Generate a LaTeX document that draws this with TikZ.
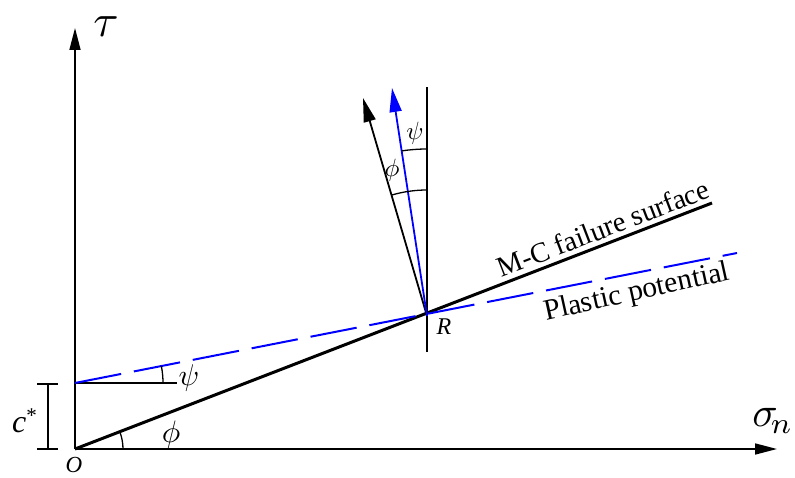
\documentclass[tikz,border=0pt]{standalone}
\usepackage{fontspec}
\setmainfont{Liberation Serif}
\usetikzlibrary{arrows.meta}
\begin{document}
\begin{tikzpicture}[x=1pt,y=1pt,
  axis/.style={line width=1.6pt,-{Triangle[length=22pt,width=11pt]}},
  thin/.style={line width=1.3pt},
  mc/.style={line width=3pt},
  pp/.style={blue,line width=2pt,dash pattern=on 47pt off 13pt},
  narrow/.style={line width=1.8pt,-{Triangle[length=24pt,width=12pt]}},
  lbl/.style={inner sep=0pt},
  txt/.style={inner sep=0pt,font=\fontsize{28.5}{30}\selectfont}]
\useasboundingbox (0,0) rectangle (795,477);
\coordinate (O) at (75,28);
\coordinate (tauTip) at (75,449);
\coordinate (sigTip) at (777,28);
\coordinate (C) at (75,94);
\coordinate (R) at (427,161);
\coordinate (MCend) at (712,274);
\coordinate (PPend) at (737,224);
\coordinate (Vtop) at (427,390);
\coordinate (Vbot) at (427,125);
\coordinate (Nphi) at (363,379);
\coordinate (Npsi) at (392,389);
\coordinate (Hend) at (177,94);
\coordinate (Bt) at (48,93);
\coordinate (Bb) at (48,28);
% axes
\draw[axis] (O) -- (tauTip);
\draw[axis] (O) -- (sigTip);
% c* bracket
\draw[thin] (Bt) -- (Bb);
\draw[thin] ([xshift=-11pt]Bt) -- ([xshift=10pt]Bt);
\draw[thin] ([xshift=-11pt]Bb) -- ([xshift=10pt]Bb);
% horizontal at C
\draw[thin] (C) -- (Hend);
% lines
\draw[mc] (O) -- (MCend);
\draw[pp] (C) -- (PPend);
% vertical through R
\draw[thin] (Vbot) -- (Vtop);
% normals
\draw[narrow] (R) -- (Nphi);
\draw[narrow,blue] (R) -- (Npsi);
% arcs
\draw[thin] ([shift={(0:48)}]O) arc[start angle=0,end angle=21.1,radius=48];
\draw[thin] ([shift={(0:88)}]C) arc[start angle=0,end angle=11.1,radius=88];
\draw[thin] ([shift={(90:126)}]R) arc[start angle=90,end angle=106.4,radius=126];
\draw[thin] ([shift={(90:167)}]R) arc[start angle=90,end angle=98.7,radius=167];
% labels
\node[lbl,scale=4.6] (ltau) at (106,450) {$\tau$};
\node[lbl,scale=4.2] (lsig) at (773,56) {$\sigma_{\!n}$};
\node[lbl] (lO) at (74,12) {\fontsize{23}{23}\selectfont\textit{O}};
\node[lbl,anchor=base west] (lc) at (12,45) {\fontsize{32}{32}\selectfont\textit{c}\raisebox{0.3em}{\fontsize{21}{21}\selectfont*}};
\node[lbl,scale=3] (lpsiC) at (189,99) {$\psi$};
\node[lbl,scale=3.1] (lphiO) at (171,42) {$\phi$};
\node[lbl,scale=2.5] (lpsiR) at (415,344) {$\psi$};
\node[lbl,scale=2.5] (lphiR) at (392,307) {$\phi$};
\node[lbl] (lR) at (444,150) {\fontsize{24}{24}\selectfont\textit{R}};
\node[txt,rotate=21] (lmc) at (603,249) {M-C failure surface};
\node[txt,rotate=12.5,font=\fontsize{29.5}{30}\selectfont] (lpp) at (637,184) {Plastic potential};
\end{tikzpicture}
\end{document}
